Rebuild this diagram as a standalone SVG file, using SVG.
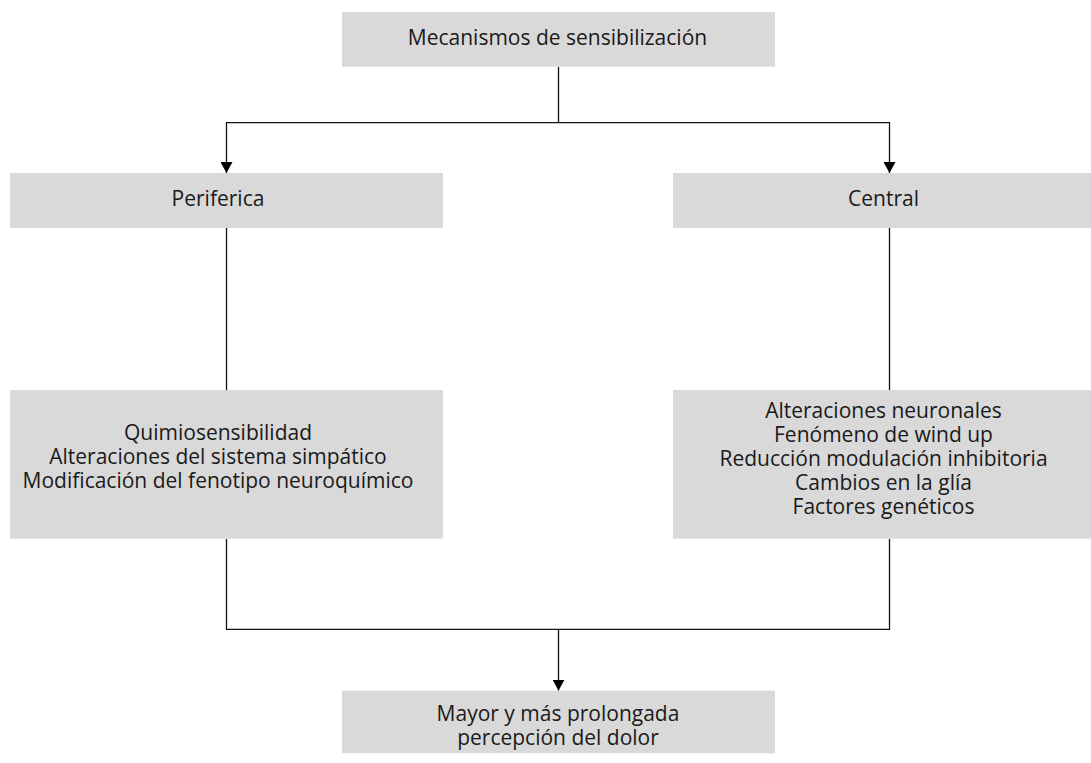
<svg xmlns="http://www.w3.org/2000/svg" width="1091" height="763" viewBox="0 0 1091 763">
<style>
.box{fill:#d9d9d9;}
.t{font-family:"Open Sans","Noto Sans","DejaVu Sans",sans-serif;font-size:21px;fill:#1a1a1a;text-anchor:middle;}
.c{fill:none;stroke:#111;stroke-width:1.3;}
</style>
<defs>
<marker id="arr" markerUnits="userSpaceOnUse" markerWidth="11" markerHeight="12" refX="11" refY="6" orient="auto" viewBox="0 0 11 12">
<path d="M0,0 L11,6 L0,12 Z" fill="#000"/>
</marker>
</defs>
<g id="connectors">
<path class="c" d="M558.5,66.7 V122.7"/>
<path class="c" d="M558.5,122.7 H226.5 V173" marker-end="url(#arr)"/>
<path class="c" d="M558.5,122.7 H889.5 V173" marker-end="url(#arr)"/>
<path class="c" d="M226.5,228 V390"/>
<path class="c" d="M889.5,228 V390"/>
<path class="c" d="M226.5,538.7 V629.3 H889.5 V538.7"/>
<path class="c" d="M558.5,629.3 V690.7" marker-end="url(#arr)"/>
</g>
<g id="n-mecanismos">
<rect class="box" x="342" y="12" width="433" height="54.7"/>
<text class="t" x="557.5" y="45">Mecanismos de sensibilización</text>
</g>
<g id="n-periferica">
<rect class="box" x="10" y="173" width="433" height="55"/>
<text class="t" x="218" y="206">Periferica</text>
</g>
<g id="n-central">
<rect class="box" x="673" y="173" width="433" height="55"/>
<text class="t" x="883.5" y="206">Central</text>
</g>
<g id="n-periferica-detalle">
<rect class="box" x="10" y="390" width="433" height="148.7"/>
<text class="t" x="218" y="439.5">Quimiosensibilidad</text>
<text class="t" x="218" y="463.5">Alteraciones del sistema simpático</text>
<text class="t" x="218" y="487.5">Modificación del fenotipo neuroquímico</text>
</g>
<g id="n-central-detalle">
<rect class="box" x="673" y="390" width="433" height="148.7"/>
<text class="t" x="883.5" y="417.5">Alteraciones neuronales</text>
<text class="t" x="883.5" y="441.7">Fenómeno de wind up</text>
<text class="t" x="883.5" y="465.9">Reducción modulación inhibitoria</text>
<text class="t" x="883.5" y="490.1">Cambios en la glía</text>
<text class="t" x="883.5" y="514.3">Factores genéticos</text>
</g>
<g id="n-resultado">
<rect class="box" x="342" y="690.7" width="433" height="62.6"/>
<text class="t" x="558" y="720.7">Mayor y más prolongada</text>
<text class="t" x="558" y="745">percepción del dolor</text>
</g>
</svg>
